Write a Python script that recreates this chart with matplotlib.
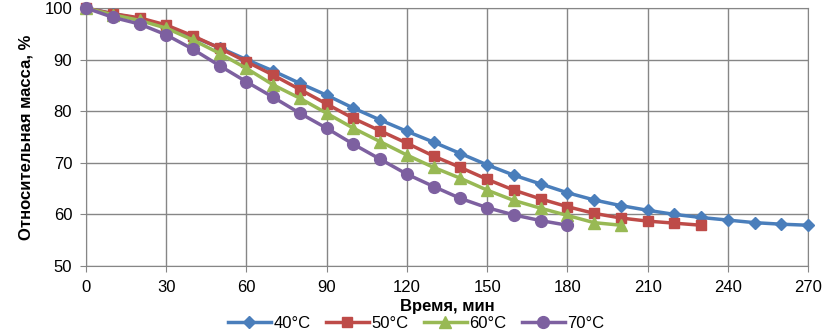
import numpy as np
import matplotlib
matplotlib.use('Agg')
import matplotlib.pyplot as plt

plt.rcParams['font.family'] = ['Liberation Sans', 'DejaVu Sans']

# time, min
t40 = list(range(0, 280, 10))
t50 = list(range(0, 240, 10))
t60 = list(range(0, 210, 10))
t70 = list(range(0, 190, 10))

# relative mass, %
m40 = [100, 98.9, 97.9, 96.3, 94.4, 92.3, 90.0, 87.8, 85.4, 83.1, 80.6, 78.3, 76.1, 74.0,
       71.8, 69.6, 67.6, 65.9, 64.2, 62.8, 61.7, 60.8, 60.0, 59.4, 58.9, 58.4, 58.1, 57.9]
m50 = [100, 98.9, 98.1, 96.7, 94.6, 92.2, 89.6, 87.0, 84.2, 81.4, 78.6, 76.2, 73.8, 71.3,
       69.1, 66.8, 64.7, 63.0, 61.5, 60.2, 59.3, 58.7, 58.3, 57.9]
m60 = [100, 98.7, 97.6, 96.1, 93.8, 91.2, 88.3, 85.1, 82.5, 79.6, 76.7, 74.1, 71.5, 69.1,
       67.0, 64.7, 62.7, 61.2, 59.8, 58.4, 57.9]
m70 = [100, 98.2, 96.9, 94.8, 92.0, 88.8, 85.7, 82.7, 79.6, 76.7, 73.6, 70.7, 67.8, 65.4,
       63.1, 61.3, 59.9, 58.8, 57.9]

labels = ['40°C', '50°C', '60°C', '70°C']
colors = ['#4A7EBB', '#BE4B48', '#98B954', '#7D60A0']
markers = ['D', 's', '^', 'o']
msizes = [6, 7, 8, 8.5]

fig = plt.figure(figsize=(8.24, 3.31), dpi=100)
ax = fig.add_axes([0.1044, 0.1964, 0.8762, 0.7794])

for t, m, lab, c, mk, ms in zip([t40, t50, t60, t70], [m40, m50, m60, m70],
                                labels, colors, markers, msizes):
    ax.plot(t, m, color=c, lw=2.5, marker=mk, markersize=ms, label=lab, clip_on=False, zorder=3)

ax.set_xlim(0, 270)
ax.set_ylim(50, 100)
ax.set_xticks(np.arange(0, 271, 30))
ax.set_yticks(np.arange(50, 101, 10))
ax.grid(True, color='#868686', lw=1)
ax.set_axisbelow(True)
for s in ax.spines.values():
    s.set_color('#868686')
ax.tick_params(axis='both', length=4, color='#868686', labelsize=12, pad=6)

ax.set_xlabel('Время, мин', fontsize=12, fontweight='bold', labelpad=3)
ax.set_ylabel('Относительная масса, %', fontsize=12, fontweight='bold', labelpad=8)

fig.legend(loc='lower center', bbox_to_anchor=(0.505, -0.045), ncol=4, frameon=False,
           fontsize=12, handlelength=2.6, columnspacing=0.9, handletextpad=0.15, numpoints=1)

fig.savefig('out.png', dpi=100)
